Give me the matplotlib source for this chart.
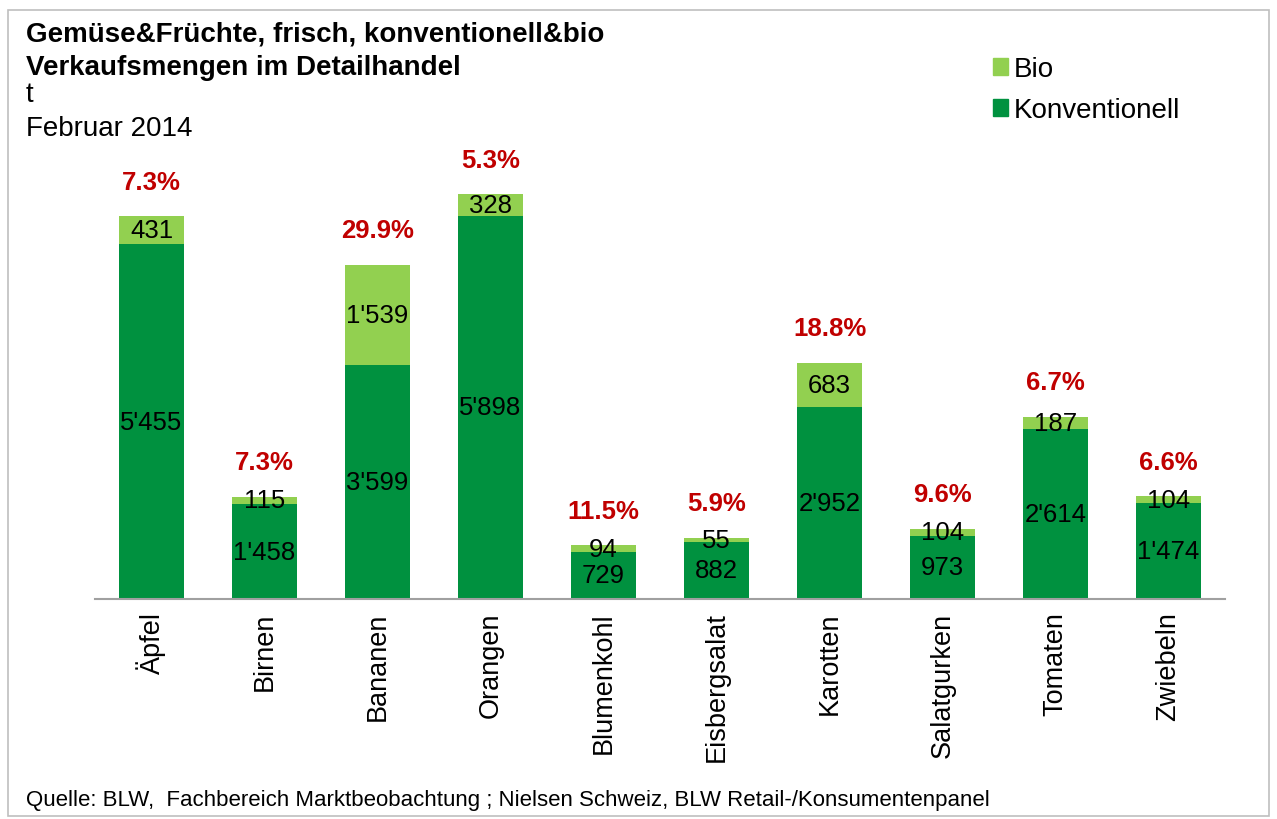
import matplotlib.pyplot as plt
from matplotlib.patches import Rectangle, Patch

plt.rcParams['font.family'] = ['Liberation Sans', 'DejaVu Sans']

categories = ['Äpfel', 'Birnen', 'Bananen', 'Orangen', 'Blumenkohl',
              'Eisbergsalat', 'Karotten', 'Salatgurken', 'Tomaten', 'Zwiebeln']
konv = [5455, 1458, 3599, 5898, 729, 882, 2952, 973, 2614, 1474]
bio = [431, 115, 1539, 328, 94, 55, 683, 104, 187, 104]
bio_pct = ['7.3%', '7.3%', '29.9%', '5.3%', '11.5%', '5.9%', '18.8%', '9.6%', '6.7%', '6.6%']

c_konv = '#00913F'
c_bio = '#92D050'

def fmt(v):
    return f"{v:,}".replace(',', "'")

fig = plt.figure(figsize=(12.77, 8.2), dpi=100)
ax = fig.add_axes([0.0744, 0.2683, 0.8849, 0.5549])

x = list(range(len(categories)))
ax.bar(x, konv, width=0.57, color=c_konv, zorder=2)
ax.bar(x, bio, width=0.57, bottom=konv, color=c_bio, zorder=2)

for i in x:
    ax.text(i, konv[i] / 2, fmt(konv[i]), ha='center', va='center', fontsize=18.5)
    ax.text(i, konv[i] + bio[i] / 2, fmt(bio[i]), ha='center', va='center', fontsize=18.5)
    ax.annotate(bio_pct[i], (i, konv[i] + bio[i]), xytext=(0, 25), textcoords='offset points',
                ha='center', va='center', fontsize=18.5, fontweight='bold', color='#C00000')

ax.set_xlim(-0.5, len(categories) - 0.5)
ax.set_ylim(0, 7000)
ax.set_yticks([])
ax.set_xticks(x)
ax.set_xticklabels(categories, rotation=90, fontsize=19.5)
ax.tick_params(axis='x', length=0, pad=9)
for s in ['top', 'right', 'left']:
    ax.spines[s].set_visible(False)
ax.spines['bottom'].set_color('#A0A0A0')
ax.spines['bottom'].set_linewidth(1.5)

fig.text(0.0204, 0.958, 'Gemüse&Früchte, frisch, konventionell&bio', fontsize=20,
         fontweight='bold', va='center')
fig.text(0.0204, 0.917, 'Verkaufsmengen im Detailhandel', fontsize=20,
         fontweight='bold', va='center')
fig.text(0.0204, 0.884, 't', fontsize=20, va='center')
fig.text(0.0204, 0.843, 'Februar 2014', fontsize=20, va='center')
fig.text(0.0204, 0.024, 'Quelle: BLW,  Fachbereich Marktbeobachtung ; Nielsen Schweiz, BLW Retail-/Konsumentenpanel',
         fontsize=16, va='center')

handles = [Patch(color=c_bio, label='Bio'), Patch(color=c_konv, label='Konventionell')]
fig.legend(handles=handles, loc='upper left', bbox_to_anchor=(0.758, 0.961), frameon=False,
           fontsize=20, handlelength=0.55, handleheight=0.55, handletextpad=0.2, labelspacing=0.55)

fig.patches.append(Rectangle((0.006, 0.004), 0.988, 0.982, transform=fig.transFigure,
                             fill=False, edgecolor='#BFBFBF', linewidth=1.2))

fig.savefig('out.png', dpi=100)
